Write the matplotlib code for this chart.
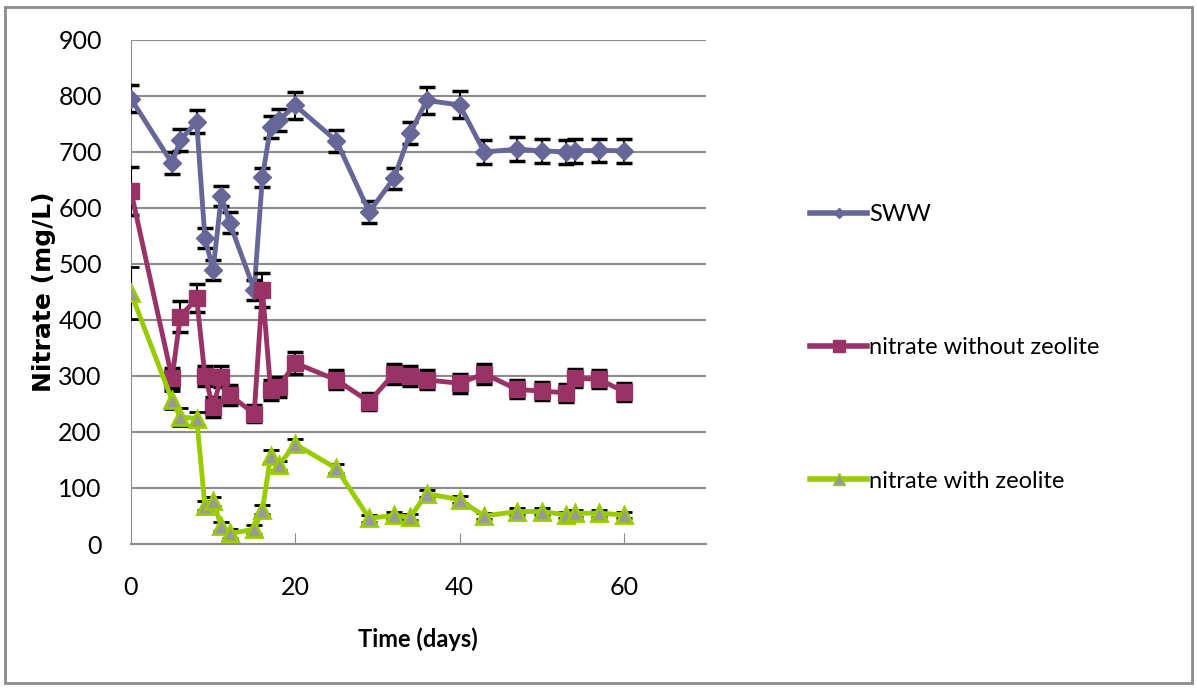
import matplotlib.pyplot as plt
from matplotlib.lines import Line2D
from matplotlib.patches import Rectangle

# sampling days
days = [0, 5, 6, 8, 9, 10, 11, 12, 15, 16, 17, 18, 20, 25, 29, 32, 34, 36, 40, 43, 47, 50, 53, 54, 57, 60]

sww = [795, 680, 721, 754, 546, 490, 621, 574, 454, 655, 745, 757, 783, 720, 593, 653, 734, 792, 784,
       700, 705, 702, 700, 702, 703, 702]
sww_err = [24, 20, 20, 21, 18, 18, 18, 18, 18, 17, 20, 20, 24, 20, 20, 19, 20, 24, 24,
           21, 21, 21, 21, 21, 21, 21]

no_zeo = [630, 296, 406, 439, 300, 245, 299, 266, 233, 454, 275, 281, 323, 293, 254, 304, 300, 293, 287,
          304, 276, 273, 270, 296, 294, 272]
no_zeo_err = [43, 18, 28, 25, 18, 18, 18, 18, 15, 30, 18, 18, 20, 17, 15, 18, 18, 17, 17,
              18, 16, 16, 16, 16, 16, 16]

with_zeo = [448, 257, 227, 224, 68, 76, 32, 19, 26, 61, 157, 141, 178, 135, 46, 51, 48, 90, 79,
            50, 58, 58, 52, 55, 55, 52]
with_zeo_err = [46, 16, 16, 12, 8, 8, 8, 8, 8, 8, 10, 8, 10, 8, 6, 6, 6, 6, 6,
                6, 6, 6, 6, 6, 6, 6]

labels = ['SWW', 'nitrate without zeolite', 'nitrate with zeolite']

plt.rcParams['font.family'] = ['Lato', 'DejaVu Sans']

fig = plt.figure(figsize=(11.97, 6.88), dpi=100)
ax = fig.add_axes([0.1094, 0.2093, 0.4805, 0.7326])

grid_c = '#8c8c8c'
err_kw = dict(ecolor='black', elinewidth=1.5, capsize=6, capthick=2.5)

ax.errorbar(days, sww, yerr=sww_err, color='#666699', lw=3.5, marker='D', ms=9,
            zorder=3, **err_kw)
ax.errorbar(days, no_zeo, yerr=no_zeo_err, color='#993366', lw=3.5, marker='s', ms=11,
            zorder=4, **err_kw)
ax.errorbar(days, with_zeo, yerr=with_zeo_err, color='#99cc00', lw=3.5, marker='^', ms=11,
            mfc='#999999', mec='#99cc00', mew=2, zorder=5, **err_kw)

ax.set_xlim(0, 70)
ax.set_ylim(0, 900)
ax.set_xticks([0, 20, 40, 60])
ax.set_yticks(range(0, 901, 100))
ax.yaxis.grid(True, color=grid_c, lw=1.5)
ax.set_axisbelow(True)

for s in ['top', 'right']:
    ax.spines[s].set_visible(False)
ax.spines['left'].set_color(grid_c)
ax.spines['bottom'].set_color(grid_c)
ax.spines['bottom'].set_linewidth(1.5)
ax.tick_params(axis='x', direction='in', length=8, color=grid_c, pad=23, labelsize=18)
ax.tick_params(axis='y', length=0, pad=21, labelsize=18)

ax.set_xlabel('Time (days)', fontsize=17, fontweight='bold')
ax.xaxis.set_label_coords(0.499, -0.165)
ax.set_ylabel('Nitrate (mg/L)', fontsize=18, fontweight='bold', family='DejaVu Sans')
ax.yaxis.set_label_coords(-0.13, 0.5)

# legend handles without error bars
handles = [
    Line2D([], [], color='#666699', lw=4, marker='D', ms=5),
    Line2D([], [], color='#993366', lw=4, marker='s', ms=9),
    Line2D([], [], color='#99cc00', lw=4, marker='^', ms=9, mfc='#999999', mec='#99cc00'),
]
fig.legend(handles, labels, loc='center left', bbox_to_anchor=(801 / 1197, 1 - 348 / 688),
           frameon=False, fontsize=17, handlelength=2.4, handletextpad=0.1,
           labelspacing=4.75, borderaxespad=0)

# chart border
fig.patches.append(Rectangle((5 / 1197, 5 / 688), 1187 / 1197, 676 / 688, transform=fig.transFigure,
                             fill=False, edgecolor='#8c8c8c', lw=2))

fig.savefig('out.png', dpi=100)
